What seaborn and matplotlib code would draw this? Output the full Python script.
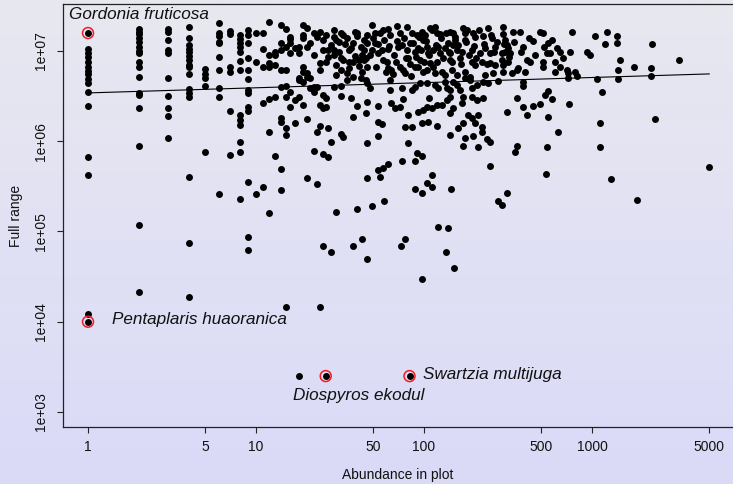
import numpy as np
import pandas as pd
import matplotlib
matplotlib.use("Agg")
import matplotlib.pyplot as plt
from matplotlib.colors import LinearSegmentedColormap
from matplotlib.ticker import FixedLocator, FixedFormatter, NullLocator
import seaborn as sns

# ---------------- data ----------------
# species with small abundances line up in columns
range_at_1 = [1.58e7, 1.05e7, 9.5e6, 8.58e6, 7.56e6, 6.65e6, 6.01e6, 5.57e6, 4.9e6, 4.43e6,
              3.52e6, 2.47e6, 6.7e5, 4.24e5, 1.22e4, 1.0e4]
range_at_2 = [1.75e7, 1.62e7, 1.54e7, 1.39e7, 1.26e7, 1.11e7, 1.0e7, 9.5e6, 7.56e6, 6.65e6,
              5.16e6, 3.43e6, 3.26e6, 2.35e6, 8.87e5, 1.19e5, 2.16e4]
range_at_3 = [1.75e7, 1.62e7, 1.32e7, 1.03e7, 9.5e6, 5.03e6, 3.18e6, 2.35e6, 1.92e6, 1.08e6]
range_at_4 = [1.84e7, 1.39e7, 1.165e7, 1.05e7, 9.75e6, 8.8e6, 7.95e6, 7.0e6, 6.65e6, 5.57e6,
              3.8e6, 3.43e6, 3.1e6, 4.03e5, 7.5e4, 1.9e4]
range_at_5 = [6.32e6, 5.57e6, 5.03e6, 4.1e6, 7.6e5]
range_at_6 = [2.04e7, 1.58e7, 1.47e7, 1.26e7, 1.23e7, 8.58e6, 6.17e6, 3.9e6, 3.1e6, 2.61e5]
range_at_7 = [1.665e7, 1.54e7, 6.65e6, 5.86e6, 2.18e6, 7.05e5]
range_at_8 = [1.5e7, 1.36e7, 1.23e7, 1.11e7, 9.75e6, 7.75e6, 6.17e6, 1.97e6, 1.73e6, 1.53e6,
              9.8e5, 7.6e5, 2.3e5]
range_at_9 = [1.71e7, 1.5e7, 1.23e7, 8.37e6, 6.17e6, 4.9e6, 3.7e6, 3.43e6, 2.41e6, 2.18e6,
              3.55e5, 8.7e4, 6.2e4]

# abundances 10 - 46
abund_b = [10, 11, 11, 10, 11, 12, 12, 12, 13, 13,
           13, 12, 14, 15, 19, 20, 14, 14, 15, 14,
           15, 16, 16, 16, 17, 16, 18, 18, 19, 19,
           20, 21, 22, 22, 23, 24, 25, 25, 24, 24,
           26, 27, 26, 29, 29, 30, 32, 33, 35, 19,
           19, 20, 20, 21, 29, 29, 30, 32, 30, 32,
           35, 36, 38, 39, 40, 42, 43, 44, 46, 46,
           45, 41, 38, 36, 35, 42, 45, 46, 14, 15,
           18, 19, 18, 21, 22, 22, 23, 29, 32, 12,
           13, 11, 15, 16, 17, 18, 16, 19, 25, 26,
           24, 25, 26, 32, 37, 40, 38, 45, 14, 14,
           15, 15, 17, 20, 12, 24, 27, 23, 28, 32,
           33, 13, 14, 22, 25, 27, 46, 10, 11, 14,
           20, 23, 46, 12, 30, 40, 25, 28, 38, 43,
           46, 15, 24, 18, 26]
range_b = [1.58e7, 1.58e7, 1.05e7, 7.56e6, 6.65e6, 9.03e6, 7.37e6, 6.65e6, 9.75e6, 7.0e6,
           9.03e6, 2.095e7, 1.94e7, 1.75e7, 1.94e7, 1.8e7, 1.23e7, 1.03e7, 1.11e7, 6.17e6,
           6.17e6, 1.36e7, 1.43e7, 1.23e7, 1.08e7, 9.5e6, 1.11e7, 9.5e6, 1.5e7, 1.39e7,
           1.11e7, 1.23e7, 9.03e6, 1.58e7, 1.43e7, 1.62e7, 1.32e7, 1.03e7, 7.37e6, 6.17e6,
           1.5e7, 1.03e7, 7.56e6, 1.71e7, 1.43e7, 1.32e7, 1.58e7, 1.5e7, 1.39e7, 6.65e6,
           5.86e6, 5.16e6, 5.71e6, 5.03e6, 1.03e7, 9.03e6, 7.0e6, 6.17e6, 5.43e6, 8.37e6,
           5.71e6, 1.03e7, 1.23e7, 1.62e7, 1.58e7, 1.11e7, 9.03e6, 1.03e7, 1.23e7, 1.5e7,
           8.37e6, 7.95e6, 7.56e6, 7.56e6, 4.78e6, 5.03e6, 4.78e6, 4.43e6, 4.0e6, 4.1e6,
           5.03e6, 4.54e6, 4.78e6, 3.9e6, 3.52e6, 4.0e6, 4.0e6, 4.0e6, 4.1e6, 2.95e6,
           3.1e6, 2.66e6, 3.1e6, 3.52e6, 2.87e6, 3.1e6, 2.41e6, 2.53e6, 3.26e6, 3.02e6,
           2.53e6, 2.35e6, 2.41e6, 3.18e6, 3.02e6, 2.47e6, 1.87e6, 2.07e6, 1.82e6, 1.65e6,
           1.41e6, 1.16e6, 1.61e6, 1.78e6, 1.25e6, 1.49e6, 1.41e6, 1.25e6, 9.8e5, 1.19e6,
           1.1e6, 6.87e5, 4.93e5, 7.8e5, 7.2e5, 6.7e5, 9.56e5, 2.61e5, 3.12e5, 2.89e5,
           3.93e5, 3.37e5, 3.93e5, 1.61e5, 1.65e5, 1.78e5, 6.9e4, 5.9e4, 6.9e4, 8.3e4,
           4.95e4, 1.44e4, 1.44e4, 2.5e3, 2.5e3]

# abundances 46 - 260
abund_c = [49, 51, 55, 57, 61, 63, 69, 72, 79, 85, 91, 97, 101, 109, 116, 120, 124, 142, 149, 153,
           170, 175, 195, 201, 225, 240, 254,
           49, 51, 48, 53, 61, 69, 74, 79, 83, 88, 92, 99, 104, 106, 113, 121, 124, 133, 139, 143,
           149, 157, 168, 175, 193, 215, 231, 247,
           46, 52, 57, 60, 59, 61, 64, 63, 72, 75, 77, 80, 88, 92, 95, 99, 104, 109, 113, 116,
           120, 128, 133, 143, 147, 157, 164, 175, 188, 193, 201, 221, 231, 247, 258,
           48, 63, 74, 85, 88, 95, 104, 116, 121, 133, 137, 143, 149, 157, 164, 175, 188, 193, 207, 224,
           240,
           46, 53, 64, 67, 72, 75, 80, 92, 99, 104, 107, 112, 120, 128, 137, 143, 143, 149, 168, 171,
           193, 207, 224,
           53, 56, 77, 85, 97, 106, 120, 143, 159, 171, 183, 193, 201, 210, 221, 221, 237, 175, 171, 196,
           210, 80, 53, 91, 97, 88, 74,
           61, 57, 53, 55, 112, 104, 112, 88, 97, 145, 247, 49, 58,
           73, 77, 121, 139, 135, 150, 97, 82]
range_c = [1.94e7, 1.58e7, 1.58e7, 1.71e7, 1.75e7, 1.5e7, 1.89e7, 1.58e7, 1.84e7, 1.58e7,
           1.5e7, 1.62e7, 1.5e7, 1.8e7, 1.84e7, 1.58e7, 1.54e7, 1.62e7, 1.58e7, 1.43e7,
           1.8e7, 1.58e7, 1.58e7, 1.43e7, 1.47e7, 1.8e7, 1.39e7,
           1.03e7, 1.23e7, 9.03e6, 9.5e6, 1.05e7, 1.29e7, 1.165e7, 1.03e7, 1.23e7, 9.75e6,
           1.08e7, 1.32e7, 1.11e7, 9.5e6, 1.03e7, 1.11e7, 9.5e6, 1.08e7, 1.23e7, 9.5e6,
           1.165e7, 1.03e7, 9.75e6, 1.32e7, 1.03e7, 9.5e6, 1.08e7, 9.5e6,
           6.65e6, 6.65e6, 7.95e6, 7.56e6, 5.86e6, 6.49e6, 6.17e6, 4.78e6, 6.65e6, 6.17e6,
           5.71e6, 8.37e6, 6.65e6, 6.65e6, 7.95e6, 5.86e6, 6.17e6, 7.37e6, 6.65e6, 5.71e6,
           7.56e6, 5.86e6, 5.43e6, 7.95e6, 6.17e6, 5.43e6, 8.37e6, 5.86e6, 5.16e6, 7.56e6,
           7.0e6, 7.56e6, 5.43e6, 7.37e6, 5.71e6,
           3.9e6, 3.7e6, 3.9e6, 3.7e6, 4.0e6, 4.43e6, 4.43e6, 4.21e6, 3.9e6, 4.54e6,
           3.9e6, 3.7e6, 4.54e6, 4.21e6, 3.7e6, 5.03e6, 4.78e6, 3.9e6, 4.21e6, 4.54e6,
           4.43e6,
           2.73e6, 2.47e6, 2.66e6, 2.35e6, 2.41e6, 2.95e6, 1.97e6, 2.12e6, 2.23e6, 2.41e6,
           3.02e6, 2.35e6, 2.53e6, 2.53e6, 2.87e6, 3.1e6, 2.07e6, 2.35e6, 2.66e6, 3.1e6,
           3.1e6, 2.87e6, 3.02e6,
           1.65e6, 1.57e6, 1.45e6, 1.45e6, 1.61e6, 1.65e6, 1.49e6, 1.16e6, 1.41e6, 1.61e6,
           1.97e6, 1.82e6, 1.61e6, 1.97e6, 1.45e6, 1.25e6, 1.05e6, 1.08e6, 8.87e5, 1.13e6,
           8.65e5, 9.56e5, 1.13e6, 7.4e5, 6.87e5, 6.05e5, 6.05e5,
           5.6e5, 5.07e5, 4.8e5, 4.03e5, 4.24e5, 3.46e5, 3.12e5, 2.97e5, 2.68e5, 2.97e5,
           5.33e5, 1.92e5, 2.19e5,
           6.9e4, 8.3e4, 1.125e5, 1.1e5, 5.9e4, 3.95e4, 3.0e4, 2.5e3]

# abundances 247 - 5000
abund_d = [295, 295, 339, 373, 490, 511, 760, 1042, 1228, 1409,
           272, 265, 303, 312, 316, 303, 325, 291, 388, 446,
           547, 619, 645, 672, 740, 1195, 1409, 265, 291, 295,
           316, 295, 334, 363, 399, 410, 428, 511, 511, 540,
           562, 602, 645, 710, 720, 793, 815, 934, 973, 1468,
           1429, 276, 388, 388, 720, 1071, 1429, 358, 312, 388,
           410, 446, 490, 525, 547, 578, 547, 730, 1148, 628,
           1117, 247, 358, 348, 540, 1117, 532, 1297, 312, 276,
           291, 2276, 1778, 2245, 3296, 2245, 2371, 5000, 1853]
range_d = [1.84e7, 1.54e7, 1.62e7, 1.62e7, 1.62e7, 1.58e7, 1.62e7, 1.47e7, 1.62e7, 1.47e7,
           1.26e7, 1.11e7, 1.32e7, 1.165e7, 1.08e7, 9.75e6, 9.5e6, 9.5e6, 1.11e7, 1.29e7,
           1.23e7, 1.08e7, 9.75e6, 8.37e6, 9.75e6, 1.2e7, 1.23e7, 7.0e6, 7.95e6, 7.0e6,
           7.56e6, 5.86e6, 5.71e6, 6.49e6, 5.86e6, 7.95e6, 7.56e6, 7.56e6, 6.65e6, 9.5e6,
           9.5e6, 5.86e6, 6.65e6, 6.17e6, 5.71e6, 5.86e6, 5.29e6, 9.75e6, 9.03e6, 7.95e6,
           6.17e6, 4.66e6, 4.54e6, 4.1e6, 5.03e6, 4.9e6, 4.9e6, 3.02e6, 2.12e6, 2.41e6,
           1.97e6, 2.47e6, 2.6e6, 3.26e6, 3.61e6, 2.95e6, 1.87e6, 2.6e6, 3.52e6, 1.25e6,
           1.61e6, 9.8e5, 8.87e5, 7.6e5, 8.65e5, 8.65e5, 4.35e5, 3.83e5, 2.68e5, 2.19e5,
           1.97e5, 1.2e7, 6.65e6, 6.49e6, 7.95e6, 5.29e6, 1.78e6, 5.2e5, 2.24e5]

# overlapping dots inside the dense upper band
abund_e = [28, 31, 34, 37, 39, 41, 43, 44, 33, 36, 31, 40, 27, 44, 38,
           50, 53, 56, 58, 62, 66, 68, 70, 76, 78, 82, 86, 90, 94, 96, 100, 103, 107, 65, 84,
           111, 118, 126, 130, 136, 140, 146, 152, 160, 166, 178, 185, 198, 205, 212, 228, 236,
           250, 262, 180,
           300, 320, 345, 380, 420, 460, 520, 580, 600, 360]
range_e = [1.165e7, 9.75e6, 1.2e7, 1.08e7, 8.8e6, 6.82e6, 5.86e6, 1.32e7, 7.95e6, 6.49e6,
           1.26e7, 1.47e7, 8.58e6, 7.95e6, 5.16e6,
           1.39e7, 1.2e7, 1.03e7, 1.32e7, 1.14e7, 9.03e6, 7.56e6, 1.11e7, 1.39e7, 8.37e6,
           7.18e6, 1.23e7, 8.58e6, 1.43e7, 1.03e7, 7.56e6, 1.29e7, 9.03e6, 5.57e6, 5.29e6,
           1.71e7, 1.165e7, 1.39e7, 8.37e6, 1.58e7, 9.75e6, 7.56e6, 1.32e7, 1.165e7, 7.18e6,
           1.26e7, 9.03e6, 1.14e7, 8.37e6, 1.71e7, 1.2e7, 7.18e6, 1.5e7, 9.75e6, 1.71e7,
           1.2e7, 8.58e6, 1.26e7, 9.75e6, 1.39e7, 9.03e6, 1.11e7, 1.32e7, 7.56e6, 6.17e6]

# fitted log-log trend line, as read at the smallest and largest abundance
trend_abund = [1, 5000]
trend_range = [3.43e6, 5.57e6]

# highlighted species
hl_names = ["Gordonia fruticosa", "Pentaplaris huaoranica", "Diospyros ekodul", "Swartzia multijuga"]
hl_abund = [1, 1, 26, 82]
hl_range = [1.58e7, 1.0e4, 2.5e3, 2.5e3]

x_ticks = [1, 5, 10, 50, 100, 500, 1000, 5000]
x_tick_labels = ["1", "5", "10", "50", "100", "500", "1000", "5000"]
y_ticks = [1e3, 1e4, 1e5, 1e6, 1e7]
y_tick_labels = ["1e+03", "1e+04", "1e+05", "1e+06", "1e+07"]

# ---------------- assemble ----------------
columns = [range_at_1, range_at_2, range_at_3, range_at_4, range_at_5,
           range_at_6, range_at_7, range_at_8, range_at_9]
abund_a, range_a = [], []
for k, vals in enumerate(columns, start=1):
    abund_a += [k] * len(vals)
    range_a += vals
assert len(abund_b) == len(range_b)
assert len(abund_c) == len(range_c)
assert len(abund_d) == len(range_d)
assert len(abund_e) == len(range_e)
df = pd.DataFrame({
    "abundance": abund_a + abund_b + abund_c + abund_d + abund_e,
    "full_range": range_a + range_b + range_c + range_d + range_e,
})
hl = pd.DataFrame({"abundance": hl_abund, "full_range": hl_range, "name": hl_names})
trend = pd.DataFrame({"abundance": trend_abund, "full_range": trend_range})

# ---------------- figure ----------------
sns.set_style("ticks")
plt.rcParams["font.family"] = ["Liberation Sans", "DejaVu Sans"]

W, H = 733, 484
fig = plt.figure(figsize=(W / 100, H / 100), dpi=100)
top_col, bot_col = "#e8e8f0", "#dadaf8"
fig.patch.set_facecolor(top_col)

bg = fig.add_axes([0, 0, 1, 1], zorder=0)
grad = np.linspace(0, 1, 256).reshape(-1, 1)
cmap = LinearSegmentedColormap.from_list("bg", [top_col, bot_col])
bg.imshow(grad, aspect="auto", cmap=cmap, extent=[0, 1, 0, 1], origin="upper")
bg.axis("off")

L, R, B, T = 63, 733, 427, 4
ax = fig.add_axes([L / W, (H - B) / H, (R - L) / W, (B - T) / H], zorder=1)
ax.set_facecolor("none")
ax.set_xscale("log")
ax.set_yscale("log")

sns.scatterplot(data=df, x="abundance", y="full_range", color="black", s=25,
                linewidth=0, ax=ax, zorder=3)
sns.lineplot(data=trend, x="abundance", y="full_range", color="black", linewidth=0.8,
             ax=ax, zorder=4)
ax.scatter(hl["abundance"], hl["full_range"], s=62, facecolors="none",
           edgecolors="#ee1c25", linewidths=1.1, zorder=5)

offsets = [(-13.7, 13.0), (17.3, 1.4), (-23.8, -13.7), (9.4, 0.8)]
for (_, row), (dx, dy) in zip(hl.iterrows(), offsets):
    ax.annotate(row["name"], (row["abundance"], row["full_range"]), xytext=(dx, dy),
                textcoords="offset points", ha="left", va="center",
                fontsize=12.3, fontstyle="italic", color="#111111", zorder=6)

ax.set_xlim(0.7098, 6908)
ax.set_ylim(682, 3.315e7)
ax.xaxis.set_major_locator(FixedLocator(x_ticks))
ax.xaxis.set_major_formatter(FixedFormatter(x_tick_labels))
ax.xaxis.set_minor_locator(NullLocator())
ax.yaxis.set_major_locator(FixedLocator(y_ticks))
ax.yaxis.set_major_formatter(FixedFormatter(y_tick_labels))
ax.yaxis.set_minor_locator(NullLocator())

ax.tick_params(axis="both", direction="out", length=4.5, width=0.8, color="#222222",
               labelsize=10, labelcolor="#111111")
ax.tick_params(axis="x", pad=5)
ax.tick_params(axis="y", pad=6.5, labelrotation=90)
for lab in ax.get_yticklabels():
    lab.set_va("center")

for side in ("left", "bottom", "top"):
    ax.spines[side].set_linewidth(0.9)
    ax.spines[side].set_color("#222222")
ax.spines["right"].set_visible(False)

ax.set_xlabel("Abundance in plot", fontsize=10, color="#111111")
ax.set_ylabel("Full range", fontsize=10, color="#111111")
ax.xaxis.set_label_coords(0.5, (B - 475) / (B - T))
ax.xaxis.label.set_va("center")
ax.yaxis.set_label_coords((16 - L) / (R - L), 0.5)
ax.yaxis.label.set_va("center")

fig.savefig("out.png", dpi=100, facecolor=fig.get_facecolor())
